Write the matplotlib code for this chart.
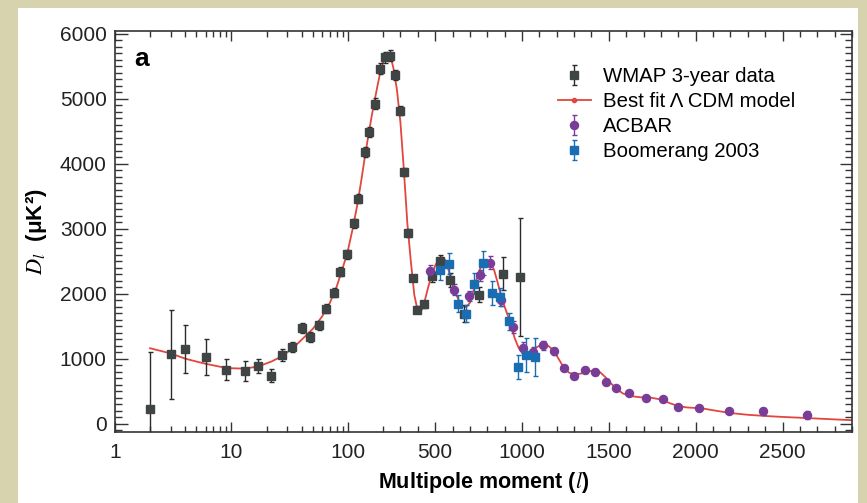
import numpy as np
import matplotlib
matplotlib.use('Agg')
import matplotlib.pyplot as plt
from matplotlib.lines import Line2D
from matplotlib.patches import Rectangle
from matplotlib.ticker import FixedLocator, NullFormatter, FixedFormatter

plt.rcParams['font.family'] = ['Liberation Sans', 'DejaVu Sans']
plt.rcParams['mathtext.fontset'] = 'stix'

# --- data ---
wmap_l = [2, 3, 4, 6, 9, 13, 17, 22, 27, 33, 40, 47, 56, 65, 76, 86, 98, 112, 123,
          140, 153, 171, 190, 209, 242, 268, 295, 320, 345, 372, 395, 435, 479, 529,
          587, 665, 751, 891, 989]
wmap_d = [231, 1066, 1154, 1025, 831, 809, 881, 738, 1051, 1178, 1466, 1335, 1512,
          1766, 2012, 2335, 2610, 3086, 3462, 4178, 4486, 4928, 5466, 5640, 5666,
          5369, 4820, 3871, 2935, 2240, 1754, 1835, 2266, 2497, 2215, 1692, 1985,
          2308, 2255]
wmap_err = [870, 690, 370, 282, 160, 160, 110, 105, 90, 80, 75, 75, 70, 70, 70, 70,
            70, 70, 70, 75, 80, 80, 85, 85, 85, 80, 70, 60, 55, 50, 50, 55, 80, 100,
            110, 130, 120, 250, 910]

boom_l = [529, 577, 630, 678, 726, 778, 828, 876, 924, 975, 1024, 1075]
boom_d = [2369, 2462, 1846, 1692, 2154, 2471, 2009, 1948, 1578, 871, 1051, 1025]
boom_err = [155, 165, 135, 130, 165, 185, 190, 140, 130, 190, 260, 300]

acbar_l = [472, 607, 694, 761, 818, 880, 947, 1004, 1061, 1123, 1182, 1243, 1300,
           1363, 1420, 1481, 1541, 1616, 1714, 1812, 1897, 2017, 2191, 2388, 2641]
acbar_d = [2348, 2062, 1963, 2282, 2480, 1908, 1486, 1170, 1102, 1205, 1110, 856,
           732, 825, 794, 640, 551, 471, 397, 376, 256, 243, 192, 189, 128]
acbar_err = [90, 80, 80, 90, 100, 100, 90, 90, 80, 70, 60, 50, 45, 45, 45, 40, 35,
             35, 35, 35, 30, 30, 30, 50, 60]

model_l = [2, 3, 4, 5, 6, 8, 10, 13, 17, 22, 27, 33, 40, 50, 60, 70, 80, 90, 100,
           110, 120, 130, 140, 150, 160, 170, 180, 190, 200, 210, 220, 230, 240, 250,
           260, 280, 300, 320, 340, 360, 380, 400, 420, 440, 460, 480, 500, 520, 540,
           560, 580, 600, 620, 640, 660, 680, 700, 720, 740, 760, 780, 800, 820, 840,
           860, 880, 900, 920, 940, 960, 980, 1000, 1030, 1060, 1090, 1120, 1150,
           1180, 1210, 1240, 1270, 1300, 1340, 1380, 1420, 1450, 1480, 1510, 1540,
           1580, 1620, 1680, 1740, 1800, 1850, 1900, 1950, 2000, 2050, 2100, 2200,
           2300, 2400, 2500, 2600, 2700, 2800, 2900]
model_d = [1160, 1080, 1000, 955, 920, 875, 852, 846, 880, 955, 1035, 1150, 1290,
           1460, 1650, 1860, 2110, 2390, 2670, 3010, 3360, 3740, 4120, 4450, 4740,
           4990, 5220, 5420, 5560, 5650, 5690, 5690, 5650, 5580, 5470, 5140, 4640,
           3900, 3080, 2500, 1980, 1730, 1735, 1890, 2100, 2290, 2430, 2530, 2565,
           2510, 2340, 2130, 1990, 1880, 1805, 1795, 1860, 2040, 2240, 2390, 2480,
           2515, 2475, 2360, 2170, 1960, 1800, 1650, 1470, 1300, 1170, 1095, 1070,
           1115, 1185, 1215, 1200, 1130, 1000, 865, 785, 755, 770, 805, 815, 790,
           715, 625, 545, 465, 425, 405, 400, 370, 315, 268, 248, 240, 228, 205, 162,
           135, 117, 102, 90, 77, 64, 52]

x_major = [1, 10, 100, 500, 1000, 1500, 2000, 2500]
x_labels = ['1', '10', '100', '500', '1000', '1500', '2000', '2500']

# axe x : log jusqu'a l=200 puis lineaire
L_BREAK = 200.0
K_LIN = 0.001491


def fwd(l):
    l = np.asarray(l, dtype=float)
    lg = np.log10(np.clip(l, 1e-6, None))
    return np.where(l <= L_BREAK, lg, np.log10(L_BREAK) + (l - L_BREAK) * K_LIN)


def inv(u):
    u = np.asarray(u, dtype=float)
    ub = np.log10(L_BREAK)
    return np.where(u <= ub, 10 ** np.clip(u, -6, ub), L_BREAK + (u - ub) / K_LIN)


RED = '#e2463c'
GREY = '#3f4444'
PURPLE = '#7a3d97'
BLUE = '#1b6db3'

fig = plt.figure(figsize=(8.67, 5.03), dpi=100)
fig.patch.set_facecolor('#d7d3ae')
fig.patches.append(Rectangle((18 / 867, 0), (858 - 18) / 867, 1 - 8 / 503,
                             transform=fig.transFigure, facecolor='white',
                             edgecolor='none', zorder=-10))

ax = fig.add_axes([115 / 867, 1 - 432 / 503, (852 - 115) / 867, (432 - 30.7) / 503])
ax.set_zorder(1)
ax.set_xscale('function', functions=(fwd, inv))
ax.set_xlim(1, 2900)
ax.set_ylim(-130, 6050)

ax.plot(model_l, model_d, color=RED, lw=1.3, zorder=2)

eb_kw = dict(ls='none', capsize=1.8, elinewidth=1.0, capthick=1.0, zorder=3)
h_wmap = ax.errorbar(wmap_l, wmap_d, yerr=wmap_err, fmt='s', color=GREY,
                     ecolor='#2b2b2b', ms=6.2, **eb_kw)
h_acbar = ax.errorbar(acbar_l, acbar_d, yerr=acbar_err, fmt='o', color=PURPLE,
                      ms=5.8, **eb_kw)
h_boom = ax.errorbar(boom_l, boom_d, yerr=boom_err, fmt='s', color=BLUE,
                     ms=5.8, **eb_kw)
h_model = Line2D([], [], color=RED, lw=1.3, marker='o', ms=3)

# ticks
minor_x = list(range(2, 10)) + list(range(20, 100, 10)) + \
    [v for v in range(200, 2901, 100) if v % 500 != 0]
ax.xaxis.set_major_locator(FixedLocator(x_major))
ax.xaxis.set_major_formatter(FixedFormatter(x_labels))
ax.xaxis.set_minor_locator(FixedLocator(minor_x))
ax.xaxis.set_minor_formatter(NullFormatter())
ax.set_yticks(range(0, 6001, 1000))
ax.yaxis.set_minor_locator(FixedLocator(range(-100, 6001, 100)))
ax.tick_params(which='both', direction='in', top=True, right=True,
               labelsize=15, width=1.0, color='#333333', labelcolor='#222222')
ax.tick_params(axis='x', which='major', length=7, pad=8)
ax.tick_params(axis='x', which='minor', length=4)
ax.tick_params(axis='y', which='major', length=9, pad=6)
ax.tick_params(axis='y', which='minor', length=5)
for s in ax.spines.values():
    s.set_linewidth(1.2)
    s.set_color('#333333')

ax.set_xlabel(r'Multipole moment ($\mathit{l}$)', fontsize=15.5, fontweight='bold',
              labelpad=6)
ax.set_ylabel(r'$\mathit{D}_{\mathit{l}}$  (μK²)', fontsize=16,
              fontweight='bold', labelpad=8)
ax.text(0.026, 0.96, 'a', transform=ax.transAxes, fontsize=19, fontweight='bold',
        va='top', ha='left')

ax.legend([h_wmap, h_model, h_acbar, h_boom],
          ['WMAP 3-year data', 'Best fit Λ CDM model', 'ACBAR', 'Boomerang 2003'],
          loc='upper left', bbox_to_anchor=(0.59, 0.93), frameon=False,
          fontsize=14.7, handlelength=1.6, handletextpad=0.6, labelspacing=0.3,
          borderaxespad=0)

fig.savefig('out.png', dpi=100, facecolor=fig.get_facecolor())
